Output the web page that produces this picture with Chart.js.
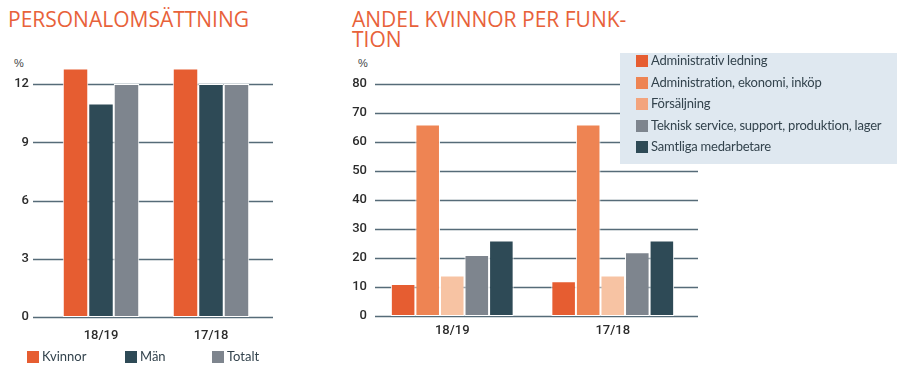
<!DOCTYPE html>
<html><head><meta charset="utf-8">
<script src="https://cdn.jsdelivr.net/npm/chart.js@4.4.0/dist/chart.umd.min.js"></script>
<style>
html,body{margin:0;padding:0;background:#fff;}
#wrap{position:relative;width:900px;height:379px;overflow:hidden;font-family:"Open Sans",sans-serif;}
.title{position:absolute;color:#e8623a;font-family:"Open Sans",sans-serif;font-size:21px;line-height:20px;letter-spacing:0px;white-space:nowrap;}
.pct{position:absolute;font-family:"Liberation Sans",sans-serif;font-size:11px;color:#444;}
canvas{position:absolute;}
.leg{position:absolute;font-family:"Lato",sans-serif;font-size:13px;color:#33434d;white-space:nowrap;}
.sw{position:absolute;width:12px;height:12px;}
#box{position:absolute;left:620px;top:53px;width:277px;height:111px;background:#dfe8f0;}
</style>
</head><body>
<div id="wrap">
  <div class="title" style="left:8px;top:9px;">PERSONALOMSÄTTNING</div>
  <div class="title" style="left:352px;top:9px;">ANDEL KVINNOR PER FUNK-<br>TION</div>
  <div class="pct" style="left:14px;top:57px;">%</div>
  <div class="pct" style="left:358px;top:57px;">%</div>
  <div style="position:absolute;left:0;top:0;width:300px;height:379px;"><canvas id="c1" width="300" height="379"></canvas></div>
  <div style="position:absolute;left:340px;top:0;width:560px;height:379px;"><canvas id="c2" width="560" height="379"></canvas></div>
  <div id="box"></div>
  <div id="legs"></div>
</div>
<script>
// ---- data: Personalomsättning ----
const turnoverCategories = ['18/19', '17/18'];
const turnoverSeries = ['Kvinnor', 'Män', 'Totalt'];
const turnoverKvinnor = [12.8, 12.8];
const turnoverMan = [11, 12];
const turnoverTotalt = [12, 12];
const turnoverTicks = [0, 3, 6, 9, 12];

// ---- data: Andel kvinnor per funktion ----
const shareCategories = ['18/19', '17/18'];
const shareSeries = ['Administrativ ledning', 'Administration, ekonomi, inköp', 'Försäljning', 'Teknisk service, support, produktion, lager', 'Samtliga medarbetare'];
const shareLedning = [11, 12];
const shareEkonomi = [66, 66];
const shareForsaljning = [14, 14];
const shareTeknisk = [21, 22];
const shareSamtliga = [26, 26];
const shareTicks = [0, 10, 20, 30, 40, 50, 60, 70, 80];

// ---- styles ----
const turnoverColors = ['#e65d31', '#2e4a56', '#7e858e'];
const shareColors = ['#e65d31', '#ee8453', '#f7c3a3', '#7e858e', '#2e4a56'];
const shareLegendColors = ['#e65d31', '#ee8453', '#f3a47d', '#7e858e', '#2e4a56'];

const tickFont = {family: 'Roboto', size: 13, weight: '500'};

const gridPlugin = {
  id: 'extGrid',
  beforeDatasetsDraw(chart, args, opts) {
    const y = chart.scales.y, a = chart.chartArea, ctx = chart.ctx;
    ctx.save();
    ctx.strokeStyle = '#566b78';
    ctx.lineWidth = 1.3;
    y.ticks.forEach(t => {
      const py = Math.round(y.getPixelForValue(t.value)) + 0.5;
      ctx.beginPath();
      ctx.moveTo(a.left + opts.l, py);
      ctx.lineTo(a.right + opts.r, py);
      ctx.stroke();
    });
    ctx.restore();
  }
};

function makeChart(id, cats, names, values, colors, ticks, cfg) {
  new Chart(document.getElementById(id), {
    type: 'bar',
    data: {
      labels: cats,
      datasets: names.map((n, i) => ({
        label: n, data: values[i], backgroundColor: colors[i],
        borderColor: '#ffffff', borderWidth: 1, borderSkipped: false,
        barPercentage: 1, categoryPercentage: cfg.cp
      }))
    },
    options: {
      responsive: false, animation: false,
      layout: {padding: {left: 0, right: cfg.padR, top: cfg.padT, bottom: 0}},
      plugins: {legend: {display: false}, tooltip: {enabled: false}, extGrid: {l: cfg.gl, r: cfg.gr}},
      scales: {
        x: {
          grid: {display: false, drawTicks: false, tickLength: 0}, border: {display: false},
          ticks: {color: '#2b2b2b', font: tickFont, padding: cfg.xPad},
          afterFit: s => { s.height = cfg.xH; }
        },
        y: {
          min: 0, max: cfg.max,
          grid: {display: false, drawTicks: false, tickLength: 0}, border: {display: false},
          ticks: {color: '#2b2b2b', font: tickFont, padding: cfg.yPad},
          afterBuildTicks: s => { s.ticks = ticks.map(v => ({value: v})); },
          afterFit: s => { s.width = cfg.yW; }
        }
      }
    },
    plugins: [gridPlugin]
  });
}

makeChart('c1', turnoverCategories, turnoverSeries, [turnoverKvinnor, turnoverMan, turnoverTotalt], turnoverColors, turnoverTicks,
  {cp: 0.695, padR: 34, padT: 55, max: 13.5, xH: 62, yW: 46, xPad: 11, yPad: 17, gl: -13, gr: 7});
makeChart('c2', shareCategories, shareSeries, [shareLedning, shareEkonomi, shareForsaljning, shareTeknisk, shareSamtliga], shareColors, shareTicks,
  {cp: 0.765, padR: 207, padT: 55, max: 90, xH: 63, yW: 32, xPad: 7, yPad: 5, gl: 3, gr: 5});

// ---- legends (HTML) ----
const legs = document.getElementById('legs');
function addLeg(x, y, color, text, ls) {
  const s = document.createElement('div'); s.className = 'sw';
  s.style.left = x + 'px'; s.style.top = (y - 6) + 'px'; s.style.background = color;
  legs.appendChild(s);
  const t = document.createElement('div'); t.className = 'leg';
  t.style.left = (x + 15) + 'px'; t.style.top = (y - 9) + 'px'; t.style.letterSpacing = ls + 'px'; t.textContent = text;
  legs.appendChild(t);
}
const leftLegX = [27, 125, 212];
turnoverSeries.forEach((n, i) => addLeg(leftLegX[i], 357, turnoverColors[i], n, 0));
shareSeries.forEach((n, i) => addLeg(636, 61 + i * 21.6, shareLegendColors[i], n, -0.2));
</script>
</body></html>
